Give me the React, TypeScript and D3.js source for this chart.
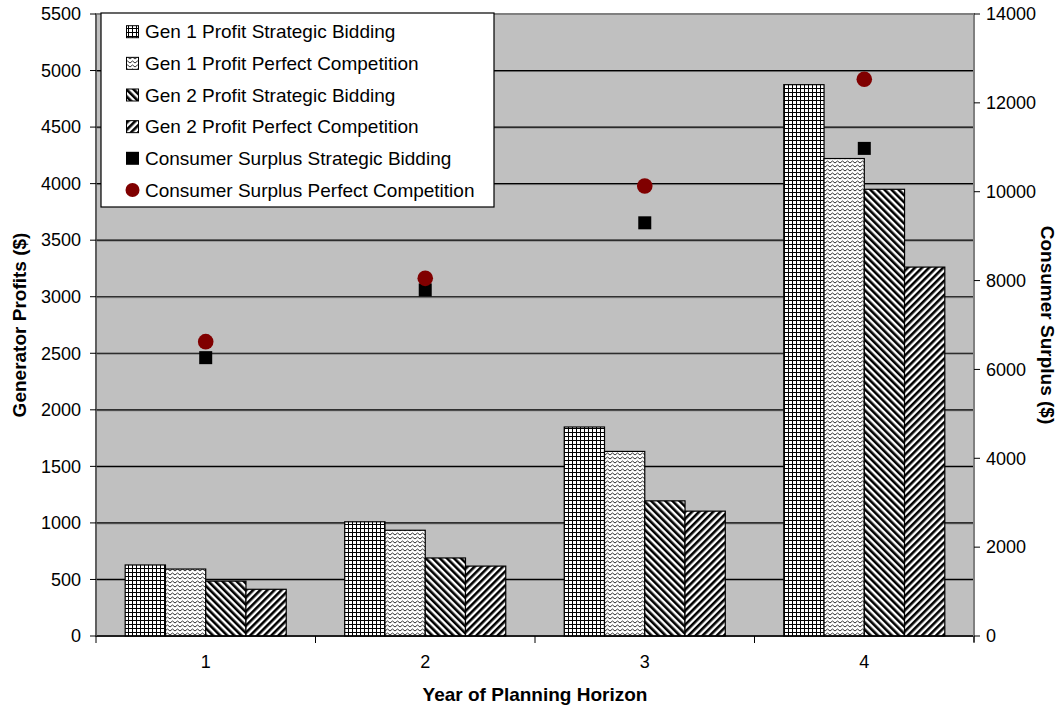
import React from "react";
import { scaleBand, scaleLinear, range } from "d3";

const categories = ["1", "2", "3", "4"];
const gen1Strategic = [628, 1010, 1848, 4875];
const gen1Perfect = [592, 935, 1632, 4222];
const gen2Strategic = [485, 690, 1195, 3950];
const gen2Perfect = [413, 618, 1104, 3262];
const csStrategic = [6265, 7790, 9300, 10975];
const csPerfect = [6625, 8050, 10130, 12530];
const leftTicks = range(0, 5501, 500);
const rightTicks = range(0, 14001, 2000);

const barSeries = [
  { name: "Gen 1 Profit Strategic Bidding", values: gen1Strategic, fill: "url(#pGrid)" },
  { name: "Gen 1 Profit Perfect Competition", values: gen1Perfect, fill: "url(#pZig)" },
  { name: "Gen 2 Profit Strategic Bidding", values: gen2Strategic, fill: "url(#pDown)" },
  { name: "Gen 2 Profit Perfect Competition", values: gen2Perfect, fill: "url(#pUp)" },
];

const W = 1063;
const H = 711;
const m = { left: 96, right: 974, top: 14, bottom: 636 };
const font = "'Liberation Sans', Arial, sans-serif";

export default function App() {
  const x = scaleBand().domain(categories).range([m.left, m.right]).paddingInner(0.2665).paddingOuter(0.133);
  const xs = scaleBand().domain(barSeries.map((s) => s.name)).range([0, x.bandwidth()]);
  const step = (m.right - m.left) / categories.length;
  const yL = scaleLinear().domain([0, 5500]).range([m.bottom, m.top]);
  const yR = scaleLinear().domain([0, 14000]).range([m.bottom, m.top]);
  const cx = (c) => (x(c) ?? 0) + x.bandwidth() / 2;

  const legendItems = [
    ...barSeries.map((s) => ({ name: s.name, kind: "bar", fill: s.fill })),
    { name: "Consumer Surplus Strategic Bidding", kind: "square", fill: "#000" },
    { name: "Consumer Surplus Perfect Competition", kind: "circle", fill: "#800000" },
  ];

  return (
    <svg width={W} height={H} style={{ position: "absolute", left: 0, top: 0, background: "#fff" }} fontFamily={font}>
      <defs>
        <pattern id="pGrid" patternUnits="userSpaceOnUse" width="4" height="4">
          <rect width="4" height="4" fill="#fff" />
          <rect x="0" y="0" width="1" height="4" fill="#000" />
          <rect x="0" y="0" width="4" height="1" fill="#000" />
        </pattern>
        <pattern id="pZig" patternUnits="userSpaceOnUse" width="5" height="4">
          <rect width="5" height="4" fill="#fff" />
          <path d="M0,3 L2.5,1 L5,3" fill="none" stroke="#333" strokeWidth="1" />
        </pattern>
        <pattern id="pDown" patternUnits="userSpaceOnUse" width="5" height="10" patternTransform="rotate(-45)">
          <rect width="5" height="10" fill="#fff" />
          <rect width="2.6" height="10" fill="#000" />
        </pattern>
        <pattern id="pUp" patternUnits="userSpaceOnUse" width="5" height="10" patternTransform="rotate(45)">
          <rect width="5" height="10" fill="#fff" />
          <rect width="2.6" height="10" fill="#000" />
        </pattern>
      </defs>

      {/* plot area */}
      <rect x={m.left} y={m.top} width={m.right - m.left} height={m.bottom - m.top} fill="#c0c0c0" stroke="#808080" strokeWidth={2} />
      {leftTicks.slice(1, -1).map((t) => (
        <g key={t}>
          <line x1={m.left} x2={m.right} y1={yL(t) + 1} y2={yL(t) + 1} stroke="#8a8a8a" strokeWidth={1} />
          <line x1={m.left} x2={m.right} y1={yL(t)} y2={yL(t)} stroke="#000" strokeWidth={1.2} />
        </g>
      ))}

      {/* bars */}
      {barSeries.map((s) =>
        s.values.map((v, i) => (
          <rect
            key={s.name + i}
            x={(x(categories[i]) ?? 0) + (xs(s.name) ?? 0)}
            y={yL(v)}
            width={xs.bandwidth()}
            height={yL(0) - yL(v)}
            fill={s.fill}
            stroke="#000"
            strokeWidth={1.2}
          />
        ))
      )}

      {/* consumer surplus markers */}
      {csStrategic.map((v, i) => (
        <rect key={"sq" + i} x={cx(categories[i]) - 6.5} y={yR(v) - 6.5} width={13} height={13} fill="#000" />
      ))}
      {csPerfect.map((v, i) => (
        <circle key={"ci" + i} cx={cx(categories[i])} cy={yR(v)} r={7.8} fill="#800000" />
      ))}

      {/* axes */}
      <line x1={m.left} x2={m.right} y1={m.bottom} y2={m.bottom} stroke="#000" strokeWidth={1.5} />
      <line x1={m.left} x2={m.left} y1={m.top} y2={m.bottom} stroke="#555" strokeWidth={1.5} />
      <line x1={m.right} x2={m.right} y1={m.top} y2={m.bottom + 6} stroke="#808080" strokeWidth={2} />
      {leftTicks.map((t) => (
        <g key={"l" + t}>
          <line x1={m.left - 6} x2={m.left} y1={yL(t)} y2={yL(t)} stroke="#000" />
          <text x={81} y={yL(t)} dy="0.35em" textAnchor="end" fontSize={18}>{t}</text>
        </g>
      ))}
      {rightTicks.map((t) => (
        <g key={"r" + t}>
          <line x1={m.right} x2={m.right + 6} y1={yR(t)} y2={yR(t)} stroke="#000" />
          <text x={986} y={yR(t)} dy="0.35em" textAnchor="start" fontSize={18}>{t}</text>
        </g>
      ))}
      {range(categories.length + 1).map((k) => (
        <line key={"xt" + k} x1={m.left + k * step} x2={m.left + k * step} y1={m.bottom} y2={m.bottom + 7} stroke="#000" />
      ))}
      {categories.map((c) => (
        <text key={"xl" + c} x={cx(c)} y={662} dy="0.35em" textAnchor="middle" fontSize={18}>{c}</text>
      ))}

      {/* axis titles */}
      <text x={(m.left + m.right) / 2} y={694} dy="0.35em" textAnchor="middle" fontSize={19} fontWeight="bold">Year of Planning Horizon</text>
      <text transform={`translate(19,${(m.top + m.bottom) / 2}) rotate(-90)`} dy="0.35em" textAnchor="middle" fontSize={19} fontWeight="bold">Generator Profits ($)</text>
      <text transform={`translate(1048,${(m.top + m.bottom) / 2}) rotate(90)`} dy="0.35em" textAnchor="middle" fontSize={19} fontWeight="bold">Consumer Surplus ($)</text>

      {/* legend */}
      <rect x={101} y={13} width={393} height={194} fill="#fff" stroke="#000" strokeWidth={1.2} />
      {legendItems.map((it, i) => {
        const cy = 31.7 + i * 31.65;
        return (
          <g key={it.name}>
            {it.kind === "bar" && <rect x={126.5} y={cy - 6} width={12} height={12} fill={it.fill} stroke="#000" strokeWidth={1} />}
            {it.kind === "square" && <rect x={126} y={cy - 6.5} width={13} height={13} fill={it.fill} />}
            {it.kind === "circle" && <circle cx={132.5} cy={cy} r={7} fill={it.fill} />}
            <text x={145} y={cy} dy="0.35em" fontSize={19}>{it.name}</text>
          </g>
        );
      })}
    </svg>
  );
}
